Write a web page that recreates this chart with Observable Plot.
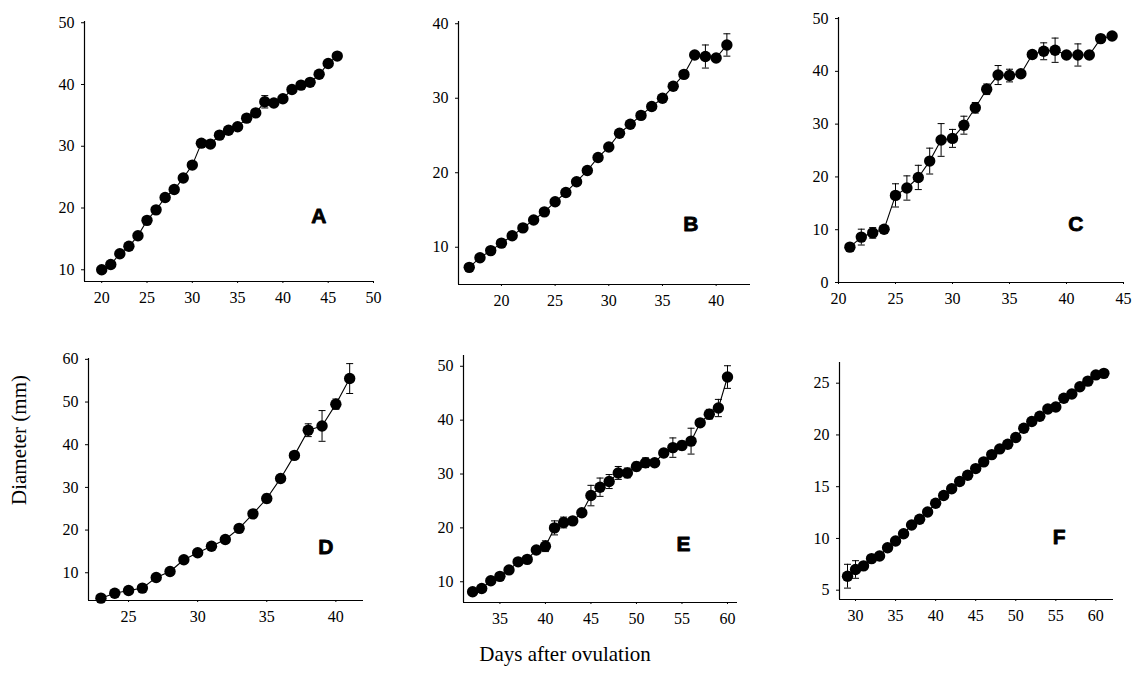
<!DOCTYPE html>
<html><head><meta charset="utf-8">
<script src="https://cdn.jsdelivr.net/npm/d3@7"></script>
<script src="https://cdn.jsdelivr.net/npm/@observablehq/plot@0.6"></script>
<style>
body{margin:0;background:#fff;}
#wrap{position:relative;width:1135px;height:686px;overflow:hidden;font-family:"Liberation Serif",serif;color:#000;}
.panel{position:absolute;}
.ylab{position:absolute;left:19px;top:440px;transform:translate(-50%,-50%) rotate(-90deg);font-size:21px;white-space:nowrap;}
.xlab{position:absolute;left:565px;top:654px;transform:translate(-50%,-50%);font-size:21px;white-space:nowrap;}
</style></head><body><div id="wrap"><div class="ylab">Diameter (mm)</div><div class="xlab">Days after ovulation</div></div>
<script>
// Panel A
const daysA=[20,21,22,23,24,25,26,27,28,29,30,31,32,33,34,35,36,37,38,39,40,41,42,43,44,45,46];
const diamA=[10.0,10.85,12.6,13.8,15.5,18.0,19.7,21.7,23.0,24.85,26.95,30.5,30.35,31.8,32.6,33.15,34.55,35.4,37.2,37.0,37.7,39.2,39.9,40.35,41.65,43.4,44.6];
const errA=[0,0,0,0,0,0,0,0,0,0,0,0,0,0,0,0,0,0,1.0,0,0,0,0,0,0,0,0];
// Panel B
const daysB=[17,18,19,20,21,22,23,24,25,26,27,28,29,30,31,32,33,34,35,36,37,38,39,40,41];
const diamB=[7.3,8.6,9.55,10.55,11.55,12.6,13.65,14.75,16.1,17.35,18.8,20.3,22.05,23.45,25.3,26.5,27.7,28.9,30.0,31.6,33.2,35.8,35.6,35.4,37.15];
const errB=[0,0,0,0,0,0,0,0,0,0,0,0,0,0,0,0,0,0,0,0,0,0,1.55,0,1.5];
// Panel C
const daysC=[21,22,23,24,25,26,27,28,29,30,31,32,33,34,35,36,37,38,39,40,41,42,43,44];
const diamC=[6.7,8.6,9.4,10.1,16.5,17.9,19.9,23.0,27.0,27.3,29.8,33.1,36.6,39.3,39.2,39.55,43.2,43.8,44.0,43.1,43.1,43.1,46.2,46.7];
const errC=[0,1.5,1.0,0,2.2,2.3,2.3,2.45,3.1,1.7,1.7,1.0,1.0,1.8,1.2,0,0,1.6,2.3,0,2.1,0,0,0];
// Panel D
const daysD=[23,24,25,26,27,28,29,30,31,32,33,34,35,36,37,38,39,40,41];
const diamD=[4.05,5.2,5.85,6.4,8.9,10.3,13.05,14.7,16.2,17.8,20.4,23.8,27.4,32.1,37.5,43.4,44.4,49.5,55.5];
const errD=[0,0,0,0,0,0,0,0,0,0,0,0,1.0,0,0,1.5,3.6,1.2,3.5];
// Panel E
const daysE=[32,33,34,35,36,37,38,39,40,41,42,43,44,45,46,47,48,49,50,51,52,53,54,55,56,57,58,59,60];
const diamE=[8.15,8.75,10.2,11.0,12.2,13.7,14.15,15.9,16.6,20.0,21.0,21.3,22.8,26.0,27.55,28.6,30.2,30.2,31.4,32.1,32.1,33.9,34.9,35.3,36.1,39.5,41.1,42.25,48.0];
const errE=[0,0,0,0,0,0,0,0,1.0,1.3,1.0,0,0,1.9,1.7,1.3,1.2,0.9,0.8,0.9,0,0.7,1.8,0.8,2.4,0,0.9,1.6,2.1];
// Panel F
const daysF=[29,30,31,32,33,34,35,36,37,38,39,40,41,42,43,44,45,46,47,48,49,50,51,52,53,54,55,56,57,58,59,60,61];
const diamF=[6.35,7.0,7.35,8.05,8.3,9.1,9.75,10.45,11.3,11.85,12.55,13.4,14.15,14.8,15.5,16.1,16.75,17.4,18.1,18.65,19.1,19.75,20.65,21.3,21.8,22.5,22.7,23.55,23.95,24.65,25.2,25.8,25.95];
const errF=[1.15,0.85,0,0,0,0,0,0,0,0,0,0,0,0,0,0,0,0,0,0,0,0,0,0,0,0,0,0,0,0,0,0,0];

const labels=["A","B","C","D","E","F"];
const xTickSets=[[20,25,30,35,40,45,50],[20,25,30,35,40],[20,25,30,35,40,45],[25,30,35,40],[35,40,45,50,55,60],[30,35,40,45,50,55,60]];
const yTickSets=[[10,20,30,40,50],[10,20,30,40],[0,10,20,30,40,50],[10,20,30,40,50,60],[10,20,30,40,50],[5,10,15,20,25]];

const series=[[daysA,diamA,errA],[daysB,diamB,errB],[daysC,diamC,errC],[daysD,diamD,errD],[daysE,diamE,errE],[daysF,diamF,errF]];

// layout (frame box in page pixels, scale domains, label offsets)
const layout=[
 {l:84,r:373,t:21,b:281,xd:[18.1,50],yd:[8.1,50.2],dx:-47,dy:-59},
 {l:458,r:750,t:21,b:284,xd:[16,43.2],yd:[5,40.3],dx:-52,dy:-54},
 {l:838,r:1123,t:17,b:282,xd:[20,45],yd:[0,50.2],dx:-40,dy:-52},
 {l:88,r:363,t:358,b:600,xd:[22.1,42],yd:[3.5,60.2],dx:-30,dy:-47},
 {l:463,r:737,t:355,b:602,xd:[31,61.1],yd:[6.15,52],dx:-47,dy:-52},
 {l:839,r:1113,t:362,b:599,xd:[28,62.2],yd:[4.1,27],dx:-48,dy:-56}
];

const cap={draw(ctx){ctx.moveTo(-3.5,0);ctx.lineTo(3.5,0);}};
const wrap=document.getElementById("wrap");
const mL=45,mR=15,mT=8,mB=34;

series.forEach(([days,diam,err],i)=>{
  const L=layout[i];
  const data=days.map((d,j)=>({day:d,diam:diam[j],err:err[j]}));
  const eb=data.filter(d=>d.err>0);
  const chart=Plot.plot({
    width:(L.r-L.l)+mL+mR,
    height:(L.b-L.t)+mT+mB,
    marginLeft:mL,marginRight:mR,marginTop:mT,marginBottom:mB,
    style:{fontSize:"16px",fontFamily:"'Liberation Serif',serif",background:"transparent",color:"#000",overflow:"visible"},
    x:{domain:L.xd,ticks:xTickSets[i],tickSize:2,tickPadding:8,label:null,tickFormat:d=>String(d)},
    y:{domain:L.yd,ticks:yTickSets[i],tickSize:3,tickPadding:7,label:null,tickFormat:d=>String(d)},
    marks:[
      Plot.ruleX([L.xd[0]],{stroke:"#000",strokeWidth:1.2}),
      Plot.ruleY([L.yd[0]],{stroke:"#000",strokeWidth:1.2}),
      Plot.line(data,{x:"day",y:"diam",stroke:"#000",strokeWidth:1.1}),
      Plot.ruleX(eb,{x:"day",y1:d=>d.diam-d.err,y2:d=>d.diam+d.err,stroke:"#000",strokeWidth:1}),
      Plot.dot(eb,{x:"day",y:d=>d.diam-d.err,symbol:cap,stroke:"#000",fill:"none",strokeWidth:1}),
      Plot.dot(eb,{x:"day",y:d=>d.diam+d.err,symbol:cap,stroke:"#000",fill:"none",strokeWidth:1}),
      Plot.dot(data,{x:"day",y:"diam",r:5.7,fill:"#000",stroke:"none"}),
      Plot.text([labels[i]],{frameAnchor:"bottom-right",text:d=>d,dx:L.dx,dy:L.dy,fontSize:21,fill:"#000",stroke:"#000",strokeWidth:0.8})
    ]
  });
  chart.classList.add("panel");
  chart.style.left=(L.l-mL)+"px";
  chart.style.top=(L.t-mT)+"px";
  chart.querySelectorAll("text").forEach(t=>{
    const isLetter=labels.includes(t.textContent);
    if(isLetter){
      t.style.fontFamily="'Liberation Sans',Arial,sans-serif";
      t.style.fontWeight="900";
      t.style.fontSize="21px";
    }else{
      t.style.fontFamily="'Liberation Serif','Times New Roman',serif";
      t.style.fontSize="16px";
    }
  });
  wrap.appendChild(chart);
});
</script>
</body></html>
